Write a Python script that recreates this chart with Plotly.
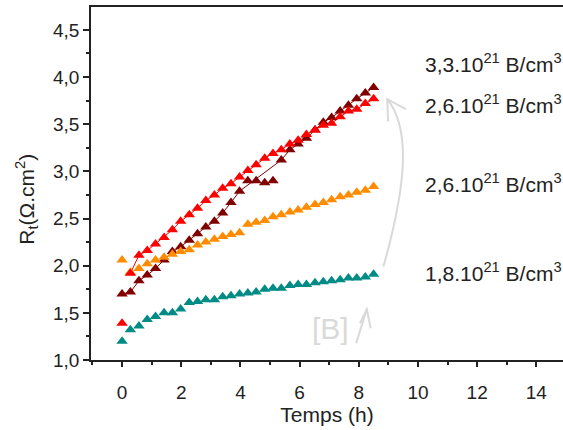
import plotly.graph_objects as go

# ---- data ----
temps = [0, 0.28, 0.57, 0.85, 1.13, 1.42, 1.70, 1.98, 2.27, 2.55, 2.83, 3.12, 3.40, 3.68, 3.97,
         4.25, 4.53, 4.82, 5.10, 5.38, 5.67, 5.95, 6.23, 6.52, 6.80, 7.08, 7.37, 7.65, 7.93, 8.22, 8.50]

rt_18 = [1.20, 1.32, 1.36, 1.43, 1.46, 1.50, 1.50, 1.54, 1.61, 1.62, 1.64, 1.64, 1.67, 1.68, 1.70,
         1.71, 1.72, 1.75, 1.76, 1.76, 1.79, 1.80, 1.80, 1.82, 1.83, 1.84, 1.85, 1.87, 1.87, 1.88, 1.91]

rt_26a = [2.06, 1.93, 1.97, 2.02, 2.06, 2.09, 2.12, 2.15, 2.17, 2.22, 2.25, 2.28, 2.31, 2.33, 2.35,
          2.44, 2.46, 2.48, 2.52, 2.54, 2.57, 2.59, 2.62, 2.65, 2.67, 2.70, 2.73, 2.75, 2.78, 2.80, 2.84]

rt_26b = [1.39, 1.92, 2.11, 2.16, 2.23, 2.30, 2.38, 2.47, 2.54, 2.61, 2.69, 2.75, 2.82, 2.87, 2.94,
          3.01, 3.07, 3.14, 3.19, 3.23, 3.29, 3.33, 3.39, 3.44, 3.49, 3.51, 3.58, 3.64, 3.66, 3.72, 3.77]

rt_33 = [1.70, 1.72, 1.84, 1.90, 1.97, 2.06, 2.15, 2.20, 2.27, 2.34, 2.41, 2.47, 2.56, 2.67, 2.79,
         2.90, 2.90, 2.88, 2.90, 3.12, 3.23, 3.29, 3.35, 3.44, 3.52, 3.57, 3.64, 3.70, 3.77, 3.83, 3.89]

# points of the 3,3 series that are not on its guide line
rt_33_offline = [15, 16, 17, 18]

labels = ["3,3.10<sup>21</sup> B/cm<sup>3</sup>",
          "2,6.10<sup>21</sup> B/cm<sup>3</sup>",
          "2,6.10<sup>21</sup> B/cm<sup>3</sup>",
          "1,8.10<sup>21</sup> B/cm<sup>3</sup>"]
label_y = [4.144, 3.715, 2.877, 1.933]

x_ticks = [0, 2, 4, 6, 8, 10, 12, 14]
y_ticks = [1.0, 1.5, 2.0, 2.5, 3.0, 3.5, 4.0, 4.5]
y_ticktext = ["1,0", "1,5", "2,0", "2,5", "3,0", "3,5", "4,0", "4,5"]

# ---- styles ----
TEAL = "#008B85"
ORANGE = "#FF8C00"
RED = "#FF0000"
DARKRED = "#800000"
FONT = "Liberation Sans, Arial, sans-serif"
TXT = "#222222"
LIGHT = "#D9D9D9"

fig = go.Figure()

line_x = [t for i, t in enumerate(temps) if i not in rt_33_offline]
line_y = [v for i, v in enumerate(rt_33) if i not in rt_33_offline]
fig.add_trace(go.Scatter(x=line_x, y=line_y, mode="lines",
                         line=dict(color=DARKRED, width=1), showlegend=False, hoverinfo="skip"))
fig.add_trace(go.Scatter(x=temps[1:], y=rt_26b[1:], mode="lines",
                         line=dict(color=RED, width=1), showlegend=False, hoverinfo="skip"))

mk = dict(symbol="triangle-up", size=10)
fig.add_trace(go.Scatter(x=temps, y=rt_18, mode="markers", marker=dict(color=TEAL, **mk), showlegend=False))
fig.add_trace(go.Scatter(x=temps, y=rt_33, mode="markers", marker=dict(color=DARKRED, **mk), showlegend=False))
fig.add_trace(go.Scatter(x=temps, y=rt_26a, mode="markers", marker=dict(color=ORANGE, **mk), showlegend=False))
fig.add_trace(go.Scatter(x=temps, y=rt_26b, mode="markers", marker=dict(color=RED, **mk), showlegend=False))

annotations = []
for txt, yy in zip(labels, label_y):
    annotations.append(dict(x=10.17, y=yy, xref="x", yref="y", text=txt, showarrow=False,
                            xanchor="left", yanchor="middle",
                            font=dict(family=FONT, size=21, color=TXT)))
annotations.append(dict(x=7.06, y=1.33, xref="x", yref="y", text="[B]", showarrow=False,
                        xanchor="center", yanchor="middle",
                        font=dict(family=FONT, size=30, color=LIGHT)))
annotations.append(dict(x=-0.137, y=0.455, xref="paper", yref="paper",
                        text="R<sub>t</sub>(Ω.cm<sup>2</sup>)", textangle=-90, showarrow=False,
                        xanchor="center", yanchor="middle",
                        font=dict(family=FONT, size=21, color=TXT)))

shapes = [
    # big curved arrow
    dict(type="path", xref="x", yref="y",
         path="M 8.83,1.99 C 9.56,2.80 9.80,3.44 8.96,3.765",
         line=dict(color=LIGHT, width=2)),
    dict(type="path", xref="x", yref="y",
         path="M 8.99,3.53 L 8.96,3.765 L 9.59,3.66",
         line=dict(color=LIGHT, width=2)),
    # small arrow next to [B]
    dict(type="path", xref="x", yref="y",
         path="M 7.91,1.177 L 8.27,1.538",
         line=dict(color=LIGHT, width=2)),
    dict(type="path", xref="x", yref="y",
         path="M 8.04,1.389 L 8.27,1.538 L 8.40,1.336",
         line=dict(color=LIGHT, width=2)),
]

fig.update_layout(
    width=563, height=430,
    margin=dict(l=91, r=0, t=7, b=70),
    paper_bgcolor="white", plot_bgcolor="white",
    font=dict(family=FONT, size=19, color=TXT),
    annotations=annotations, shapes=shapes,
    xaxis=dict(range=[-1.05, 14.9], tickvals=x_ticks, ticks="outside", ticklen=5, tickwidth=1.5,
               tickcolor="#222", showline=True, linecolor="#222", linewidth=1.5, mirror=True,
               showgrid=False, zeroline=False, ticklabelstandoff=9,
               minor=dict(dtick=1, tick0=0, ticks="outside", ticklen=3, tickcolor="#222", tickwidth=1.5),
               title=dict(text="Temps (h)", font=dict(family=FONT, size=21, color=TXT), standoff=4),
               tickfont=dict(family=FONT, size=19, color=TXT)),
    yaxis=dict(range=[1.0, 4.743], tickvals=y_ticks, ticktext=y_ticktext, ticks="outside", ticklen=6,
               tickwidth=1.5, tickcolor="#222", showline=True, linecolor="#222", linewidth=1.5,
               showgrid=False, zeroline=False,
               minor=dict(dtick=0.25, tick0=1.0, ticks="outside", ticklen=3, tickcolor="#222", tickwidth=1.5),
               tickfont=dict(family=FONT, size=19, color=TXT)),
)

fig.write_html("out.html", config={"displayModeBar": False},
               post_script="document.body.style.margin='0';document.body.style.overflow='hidden';")
